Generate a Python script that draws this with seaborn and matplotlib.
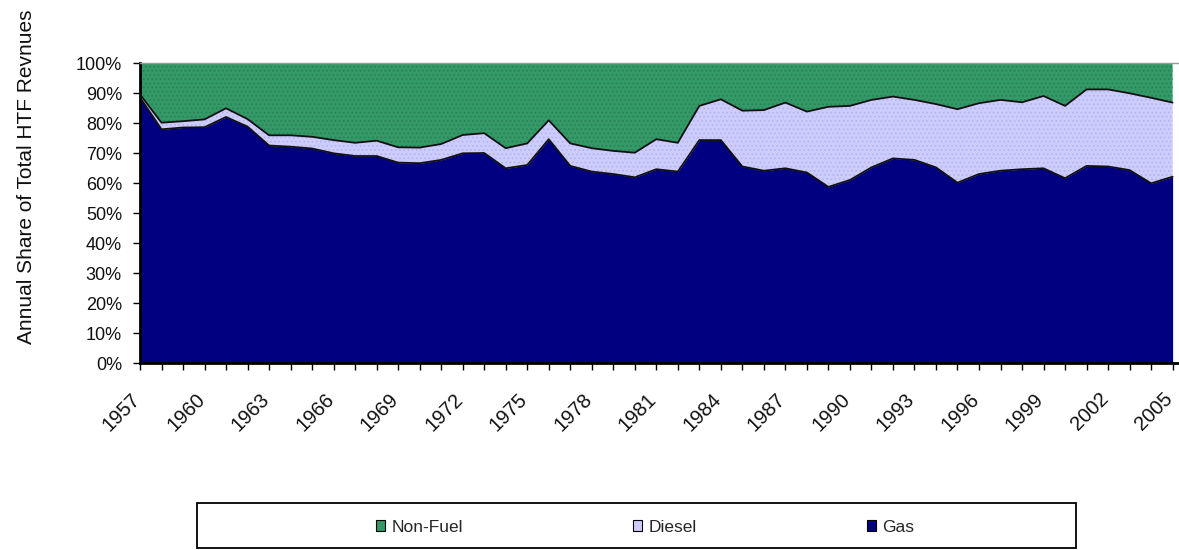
import matplotlib
matplotlib.use("Agg")
import numpy as np
import pandas as pd
import matplotlib.pyplot as plt
import seaborn as sns
from matplotlib.patches import Patch, Rectangle
from matplotlib.transforms import ScaledTranslation

# ---------------- data ----------------
years = list(range(1957, 2006))
gas = [88.5, 77.9, 78.5, 78.6, 82.0, 78.8, 72.5, 72.1, 71.5, 69.9,
       69.0, 69.0, 66.8, 66.6, 67.7, 69.9, 70.0, 64.9, 66.0, 74.6,
       65.7, 63.8, 63.0, 61.9, 64.6, 63.8, 74.3, 74.3, 65.5, 64.1,
       64.9, 63.5, 58.7, 61.0, 65.2, 68.2, 67.7, 65.2, 60.1, 63.0,
       64.1, 64.6, 64.9, 61.6, 65.7, 65.5, 64.3, 59.9, 62.1]
diesel = [1.0, 2.2, 2.1, 2.6, 2.9, 2.5, 3.4, 3.8, 3.9, 4.4,
          4.4, 5.1, 5.1, 5.2, 5.3, 6.1, 6.6, 6.7, 7.2, 6.3,
          7.5, 7.8, 7.7, 8.2, 10.0, 9.6, 11.4, 13.6, 18.6, 20.2,
          21.9, 20.3, 26.7, 24.7, 22.5, 20.6, 20.0, 21.1, 24.5, 23.6,
          23.6, 22.3, 24.1, 24.1, 25.5, 25.7, 25.6, 28.5, 24.7]
non_fuel = [10.5, 19.9, 19.4, 18.8, 15.1, 18.7, 24.1, 24.1, 24.6, 25.7,
            26.6, 25.9, 28.1, 28.2, 27.0, 24.0, 23.4, 28.4, 26.8, 19.1,
            26.8, 28.4, 29.3, 29.9, 25.4, 26.6, 14.3, 12.1, 15.9, 15.7,
            13.2, 16.2, 14.6, 14.3, 12.3, 11.2, 12.3, 13.7, 15.4, 13.4,
            12.3, 13.1, 11.0, 14.3, 8.8, 8.8, 10.1, 11.6, 13.2]
series_names = ["Non-Fuel", "Diesel", "Gas"]
tick_years = list(range(1957, 2006, 3))
y_ticks = list(range(0, 101, 10))
y_tick_labels = [f"{v}%" for v in y_ticks]
y_label = "Annual Share of Total HTF Revnues"

# ---------------- style ----------------
sns.set_theme(style="white")
plt.rcParams['font.family'] = ['Liberation Sans', 'DejaVu Sans']
plt.rcParams['hatch.linewidth'] = 0.7

NAVY = "#000080"
LAV = "#CCCCFF"
GREEN = "#339966"
colors = {"Gas": NAVY, "Diesel": LAV, "Non-Fuel": GREEN}

df = pd.DataFrame({"Year": years, "Gas": gas, "Diesel": diesel, "Non-Fuel": non_fuel})
df["GasDiesel"] = df["Gas"] + df["Diesel"]
df["Total"] = df["GasDiesel"] + df["Non-Fuel"]

W, H = 1179, 550
fig = plt.figure(figsize=(W / 100, H / 100), dpi=100)
ax = fig.add_axes([140 / W, 1 - 363 / H, 1038 / W, 300 / H])

ax.fill_between(df["Year"], 0, df["Gas"], facecolor=NAVY, linewidth=0, zorder=1)
ax.fill_between(df["Year"], df["Gas"], df["GasDiesel"], facecolor=LAV,
                edgecolor="#b4b4e8", hatch="....", linewidth=0, zorder=1)
ax.fill_between(df["Year"], df["GasDiesel"], df["Total"], facecolor=GREEN,
                edgecolor="#2a8058", hatch="....", linewidth=0, zorder=1)
sns.lineplot(data=df, x="Year", y="Gas", color="#111111", lw=1.3, ax=ax, zorder=3)
sns.lineplot(data=df, x="Year", y="GasDiesel", color="#111111", lw=1.3, ax=ax, zorder=3)

ax.set_xlim(1957, 2005.25)
ax.set_ylim(0, 100)
ax.set_xlabel("")
ax.set_ylabel("")

ax.set_yticks(y_ticks)
ax.set_yticklabels(y_tick_labels)
ax.set_xticks(tick_years)
ax.set_xticklabels([str(y) for y in tick_years], rotation=45, ha="right")
ax.set_xticks(years, minor=True)

ax.tick_params(axis="y", which="major", direction="out", length=5, width=1,
               color="black", labelsize=13, labelcolor="#111111", pad=8, left=True)
ax.tick_params(axis="x", which="both", direction="out", length=5, width=1,
               color="black", bottom=True)
ax.tick_params(axis="x", which="major", labelsize=14.5, labelcolor="#111111", pad=14)

for lab in ax.get_xticklabels():
    lab.set_transform(lab.get_transform() + ScaledTranslation(4 / 100, 0, fig.dpi_scale_trans))

for side in ["left", "bottom"]:
    ax.spines[side].set_color("black")
    ax.spines[side].set_linewidth(2)
ax.spines["top"].set_color("#999999")
ax.spines["top"].set_linewidth(1)
ax.spines["right"].set_visible(False)
ax.grid(False)

fig.text(27 / W, 1 - 177 / H, y_label, rotation=90, ha="center", va="center",
         fontsize=15, color="#111111")

handles = [Patch(facecolor=colors[n], edgecolor="black", linewidth=0.8) for n in series_names]
fig.legend(handles, series_names, loc="center", bbox_to_anchor=(645 / W, 1 - 527 / H),
           ncol=3, frameon=False, fontsize=12.5, handlelength=0.55, handleheight=0.55,
           handletextpad=0.35, columnspacing=9.8)
fig.patches.append(Rectangle((197 / W, 1 - 548 / H), 879 / W, 45 / H, transform=fig.transFigure,
                             fill=False, edgecolor="black", linewidth=1.3))

fig.savefig("out.png", dpi=100)
